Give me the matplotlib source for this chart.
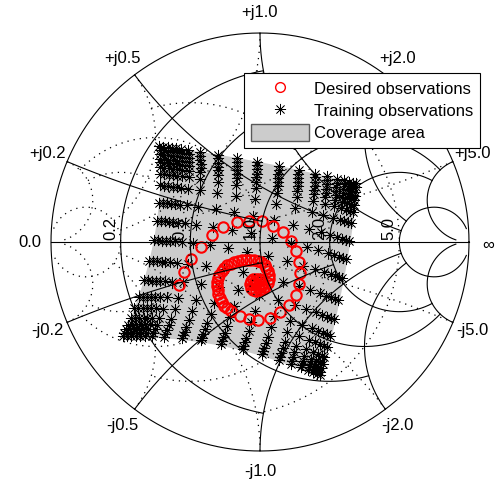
import numpy as np
import matplotlib.pyplot as plt
from matplotlib.lines import Line2D
from matplotlib.patches import Patch

plt.rcParams['font.family'] = ['Liberation Sans', 'DejaVu Sans']
plt.rcParams['font.size'] = 12

# Smith chart grid: circle values and the value up to which each one is drawn
grid_values = [0.2, 0.5, 1.0, 2.0, 5.0]
grid_limits = [1.0, 2.0, 5.0, 5.0, 30.0]
r_labels = ['0.2', '0.5', '1.0', '2.0', '5.0']
x_labels_pos = ['+j0.2', '+j0.5', '+j1.0', '+j2.0', '+j5.0']
x_labels_neg = ['-j0.2', '-j0.5', '-j1.0', '-j2.0', '-j5.0']

# Desired observations (reflection coefficient)
desired_re = [-0.386, -0.364, -0.329, -0.282, -0.231, -0.176, -0.111, -0.051, 0.008, 0.061,
              0.109, 0.147, 0.172, 0.188, 0.191, 0.185, 0.172, 0.139, 0.096, 0.048,
              -0.008, -0.053, -0.096, -0.139,
              -0.156, -0.170, -0.182, -0.191, -0.199, -0.203, -0.206, -0.204, -0.201, -0.194,
              -0.184, -0.172, -0.158, -0.141, -0.124, -0.105, -0.086, -0.067, -0.048, -0.029,
              -0.010, 0.007, 0.022, 0.031, 0.038, 0.041, 0.041, 0.036, 0.026, 0.014,
              0.000, -0.017, -0.033, -0.045, -0.050, -0.045, -0.033, -0.019, -0.005, 0.007,
              0.012, 0.005, -0.010, -0.024, -0.026]
desired_im = [-0.207, -0.144, -0.080, -0.024, 0.032, 0.072, 0.096, 0.102, 0.099, 0.078,
              0.048, 0.003, -0.044, -0.096, -0.148, -0.201, -0.255, -0.300, -0.335, -0.364,
              -0.372, -0.368, -0.356, -0.332,
              -0.318, -0.304, -0.287, -0.268, -0.249, -0.230, -0.211, -0.191, -0.172, -0.156,
              -0.139, -0.124, -0.112, -0.103, -0.096, -0.091, -0.086, -0.084, -0.084, -0.086,
              -0.091, -0.098, -0.110, -0.124, -0.141, -0.158, -0.177, -0.196, -0.213, -0.225,
              -0.232, -0.234, -0.230, -0.218, -0.201, -0.187, -0.177, -0.175, -0.177, -0.184,
              -0.196, -0.211, -0.215, -0.208, -0.196]

# Training observations: a tensor grid over the coverage area.
# Sample fractions along each side (denser near the edges)
grid_frac = [0.0, 0.02, 0.042, 0.065, 0.085, 0.11, 0.145, 0.205, 0.295, 0.39,
             0.49, 0.6, 0.7, 0.785, 0.845, 0.895, 0.93, 0.955, 0.975, 0.99]
# Coverage area outline: corners TL, TR, BR, BL and the side midpoints top, right, bottom, left
area_re = [-0.481, 0.469, 0.292, -0.660, -0.005, 0.400, -0.182, -0.510]
area_im = [0.459, 0.278, -0.651, -0.459, 0.383, -0.187, -0.498, 0.0]


def area_map(u, v):
    # 8-node quadrilateral through the outline points
    xi = 2 * np.asarray(u) - 1
    eta = 1 - 2 * np.asarray(v)
    n = [0.25 * (1 - xi) * (1 + eta) * (-xi + eta - 1),
         0.25 * (1 + xi) * (1 + eta) * (xi + eta - 1),
         0.25 * (1 + xi) * (1 - eta) * (xi - eta - 1),
         0.25 * (1 - xi) * (1 - eta) * (-xi - eta - 1),
         0.5 * (1 - xi ** 2) * (1 + eta),
         0.5 * (1 + xi) * (1 - eta ** 2),
         0.5 * (1 - xi ** 2) * (1 - eta),
         0.5 * (1 - xi) * (1 - eta ** 2)]
    re = sum(w * a for w, a in zip(n, area_re))
    im = sum(w * a for w, a in zip(n, area_im))
    return re, im


def gamma(z):
    return (z - 1) / (z + 1)


fig = plt.figure(figsize=(5.04, 4.86), dpi=100)
ax = fig.add_axes([0, 0, 1, 1])
ax.set_xlim(-1.244, 1.1675)
ax.set_ylim(-1.1675, 1.158)
ax.axis('off')

# coverage area
t = np.linspace(0, 1, 60)
edge = np.concatenate([np.array(area_map(t, 0 * t)),
                       np.array(area_map(1 + 0 * t, t)),
                       np.array(area_map(t[::-1], 1 + 0 * t)),
                       np.array(area_map(0 * t, t[::-1]))], axis=1)
ax.fill(edge[0], edge[1], color=(0.8, 0.8, 0.8), edgecolor='none', zorder=1)

# training observations
uu, vv = np.meshgrid(grid_frac, grid_frac)
tr_re, tr_im = area_map(uu.ravel(), vv.ravel())
ax.plot(tr_re, tr_im, linestyle='none', marker=(8, 2, 0), markersize=8,
        markeredgewidth=0.5, color='k', zorder=3)

# desired observations
ax.plot(desired_re, desired_im, linestyle='none', marker='o', markersize=7.5,
        markerfacecolor='none', markeredgecolor='red', markeredgewidth=1.5, zorder=4)

# Z grid (solid) and Y grid (dotted, mirrored)
for sign, style, lw in [(1, '-', 0.8), (-1, (0, (1, 4)), 0.9)]:
    for val, lim in zip(grid_values, grid_limits):
        xs = np.linspace(-lim, lim, 3000)
        g = sign * gamma(val + 1j * xs)
        ax.plot(g.real, g.imag, linestyle=style, color='k', lw=lw, zorder=5)
        rs = np.linspace(0, lim, 3000)
        for s in (1, -1):
            g = sign * gamma(rs + 1j * s * val)
            ax.plot(g.real, g.imag, linestyle=style, color='k', lw=lw, zorder=5)

th = np.linspace(0, 2 * np.pi, 720)
ax.plot(np.cos(th), np.sin(th), color='k', lw=0.8, zorder=5)
ax.plot([-1, 1], [0, 0], color='k', lw=0.8, zorder=5)

# labels
for val, lab in zip(grid_values, r_labels):
    g = gamma(val)
    ax.text(g - 0.012, 0.01, lab, rotation=90, ha='right', va='bottom', zorder=6)
for val, lp, ln in zip(grid_values, x_labels_pos, x_labels_neg):
    g = gamma(1j * val) * 1.1
    ax.text(g.real, g.imag, lp, ha='center', va='center')
    ax.text(g.real, -g.imag, ln, ha='center', va='center')
ax.text(-1.1, 0, '0.0', ha='center', va='center')
ax.text(1.09, -0.014, '\u221e', ha='center', va='center')

handles = [Line2D([], [], linestyle='none', marker='o', markersize=7, markerfacecolor='none',
                  markeredgecolor='red', markeredgewidth=1.0),
           Line2D([], [], linestyle='none', marker=(8, 2, 0), markersize=8,
                  markeredgewidth=0.5, color='k'),
           Patch(facecolor=(0.8, 0.8, 0.8), edgecolor=(0.35, 0.35, 0.35))]
leg = fig.legend(handles, ['Desired observations', 'Training observations', 'Coverage area'],
                 loc='upper right', bbox_to_anchor=(480 / 504, 1 - 73 / 486),
                 fancybox=False, framealpha=1, edgecolor='k', borderpad=0.4,
                 labelspacing=0.33, handlelength=3.5, handleheight=1.15,
                 handletextpad=0.3, borderaxespad=0)
leg.get_frame().set_linewidth(0.8)
leg.set_zorder(10)

fig.savefig('out.png', dpi=100)
